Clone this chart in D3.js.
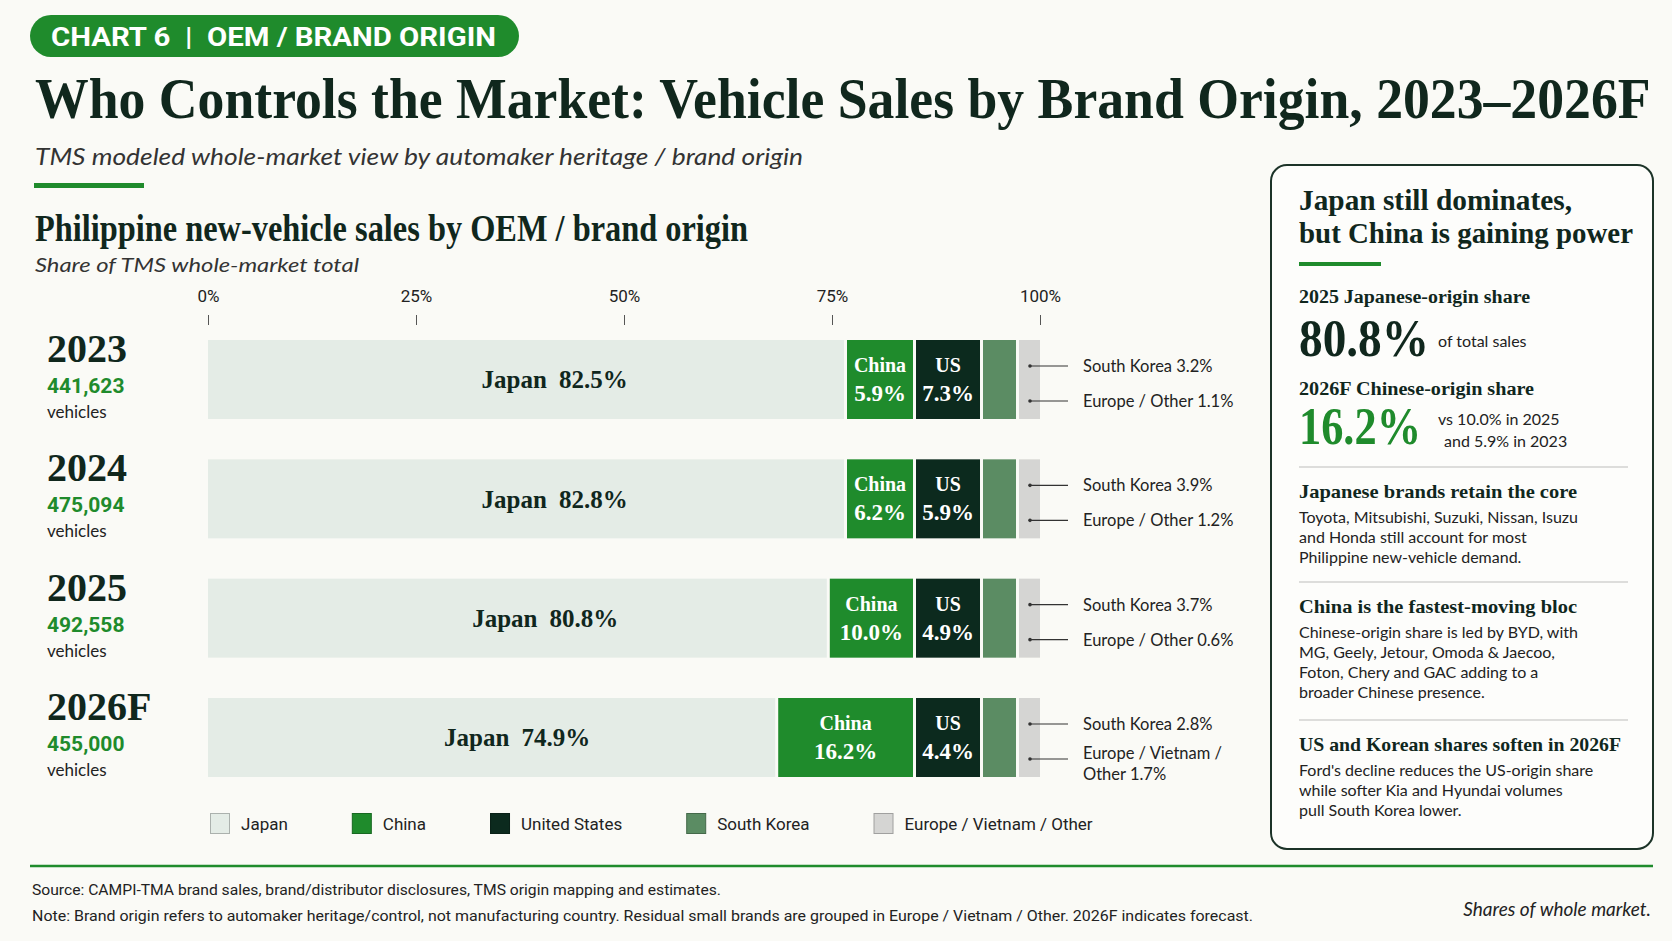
<!DOCTYPE html>
<html>
<head>
<meta charset="utf-8">
<script src="https://cdn.jsdelivr.net/npm/d3@7"></script>
<style>
  body { margin: 0; background: #fafaf6; }
  svg { display: block; }
</style>
</head>
<body>
<script>
// chart values
const years = ["2023", "2024", "2025", "2026F"];
const vehicles = [441623, 475094, 492558, 455000];
const origins = ["Japan", "China", "United States", "South Korea", "Europe / Vietnam / Other"];
const shortNames = ["Japan", "China", "US", "South Korea", "Europe / Other"];
const japan = [82.5, 82.8, 80.8, 74.9];
const china = [5.9, 6.2, 10.0, 16.2];
const unitedStates = [7.3, 5.9, 4.9, 4.4];
const southKorea = [3.2, 3.9, 3.7, 2.8];
const otherShare = [1.1, 1.2, 0.6, 1.7];
const otherNames = [["Europe / Other"], ["Europe / Other"], ["Europe / Other"], ["Europe / Vietnam /", "Other"]];
const axisTicks = [0, 25, 50, 75, 100];

const W = 1672, H = 941;
const serif = "'Liberation Serif', 'DejaVu Serif', serif";
const sans = "Lato, 'Noto Sans', sans-serif";
const cond = "Roboto, 'Liberation Sans', sans-serif";
const ink = "#10271d";
const green = "#1f8b2c";
const colors = ["#e4ece6", "#1f8b2c", "#0c2a1e", "#5b8c63", "#d5d5d3"];

const svg = d3.select("body").append("svg").attr("width", W).attr("height", H);
svg.append("rect").attr("width", W).attr("height", H).attr("fill", "#fafaf6");

// squeeze/stretch a text to the width it has in the reference
function fit(sel, w) {
  sel.attr("textLength", w).attr("lengthAdjust", "spacingAndGlyphs");
  return sel;
}
function label(x, y, s, size, family, opts = {}) {
  const t = svg.append("text")
    .attr("x", x).attr("y", y)
    .attr("font-family", family)
    .attr("font-size", size)
    .attr("font-weight", opts.weight || "normal")
    .attr("font-style", opts.style || "normal")
    .attr("fill", opts.fill || ink)
    .attr("text-anchor", opts.anchor || "start")
    .style("white-space", "pre")
    .text(s);
  if (opts.width) fit(t, opts.width);
  return t;
}

// ---- header ----
svg.append("rect").attr("x", 30).attr("y", 15).attr("width", 489).attr("height", 42)
  .attr("rx", 21).attr("fill", green);
label(51, 46, "CHART 6  |  OEM / BRAND ORIGIN", 25, cond, { weight: "bold", fill: "#fff", width: 445 });

// title: condensed horizontally with a scale so it spans the reference width
const title = svg.append("text")
  .attr("font-family", serif).attr("font-weight", "bold").attr("font-size", 58).attr("fill", ink)
  .text("Who Controls the Market: Vehicle Sales by Brand Origin, 2023\u20132026F");
const tw = title.node().getComputedTextLength();
title.attr("transform", `translate(35,118) scale(${1616 / tw},1)`);

label(35, 165, "TMS modeled whole-market view by automaker heritage / brand origin", 23, sans,
  { style: "italic", fill: "#333", width: 768 });
svg.append("rect").attr("x", 34).attr("y", 183).attr("width", 110).attr("height", 5).attr("fill", green);

label(35, 241, "Philippine new-vehicle sales by OEM / brand origin", 37, serif, { weight: "bold", width: 713 });
label(35, 272, "Share of TMS whole-market total", 20, sans, { style: "italic", fill: "#333", width: 324 });

// ---- scales ----
const x = d3.scaleLinear().domain([0, 100]).range([208, 1040]);
const y = d3.scaleBand().domain(years).range([340, 777]).paddingInner(0.338);

const axis = svg.append("g").attr("transform", "translate(0,325)")
  .call(d3.axisTop(x).tickValues(axisTicks).tickSize(10).tickPadding(13).tickFormat(d => d + "%"));
axis.select(".domain").remove();
axis.selectAll("line").attr("stroke", "#555");
axis.selectAll("text").attr("font-family", cond).attr("font-size", 17).attr("fill", "#222");

// small segments get a minimum width so the labels fit, Japan takes the rest
const minW = [0, 66, 64, 33, 21];
const gap = 3;
const rows = years.map((yr, i) => {
  const vals = [japan[i], china[i], unitedStates[i], southKorea[i], otherShare[i]];
  const w = vals.map((v, k) => k === 0 ? 0 : Math.max(x(v) - x(0), minW[k]));
  w[0] = x(100) - x(0) - d3.sum(w) - gap * 4;
  let cur = x(0);
  const segs = vals.map((v, k) => {
    const s = { key: k, value: v, x0: cur, w: w[k] };
    cur += w[k] + gap;
    return s;
  });
  return { year: yr, i, segs };
});

const row = svg.selectAll(".row").data(rows).enter().append("g")
  .attr("class", "row")
  .attr("transform", d => `translate(0,${y(d.year)})`);
const bh = y.bandwidth();

row.selectAll("rect.seg").data(d => d.segs).enter().append("rect")
  .attr("class", "seg")
  .attr("x", d => d.x0).attr("y", 0)
  .attr("width", d => d.w).attr("height", bh)
  .attr("fill", d => colors[d.key]);

// Japan label
row.append("text")
  .attr("x", d => d.segs[0].x0 + d.segs[0].w * 0.545)
  .attr("y", bh / 2 + 9)
  .attr("text-anchor", "middle")
  .attr("font-family", serif).attr("font-weight", "bold").attr("font-size", 25)
  .attr("fill", ink)
  .text(d => "Japan")
  .append("tspan").attr("dx", 12).text(d => d.segs[0].value.toFixed(1) + "%");

// China and US labels
[1, 2].forEach(k => {
  row.append("text")
    .attr("x", d => d.segs[k].x0 + d.segs[k].w / 2).attr("y", 32)
    .attr("text-anchor", "middle").attr("font-family", serif).attr("font-weight", "bold")
    .attr("font-size", 20).attr("fill", "#fff")
    .text(shortNames[k]);
  row.append("text")
    .attr("x", d => d.segs[k].x0 + d.segs[k].w / 2).attr("y", 61)
    .attr("text-anchor", "middle").attr("font-family", serif).attr("font-weight", "bold")
    .attr("font-size", 23).attr("fill", "#fff")
    .text(d => d.segs[k].value.toFixed(1) + "%");
});

// leaders for the two thin segments
const lx0 = x(100) - 10, lx1 = x(100) + 28, tx = x(100) + 43;
[[3, 26], [4, 61]].forEach(([k, ly]) => {
  row.append("line").attr("x1", lx0).attr("x2", lx1).attr("y1", ly).attr("y2", ly)
    .attr("stroke", "#333").attr("stroke-width", 1.2);
  row.append("circle").attr("cx", lx0).attr("cy", ly).attr("r", 1.8).attr("fill", "#333");
});
row.append("text").attr("x", tx).attr("y", 32)
  .attr("font-family", sans).attr("font-size", 16.5).attr("fill", "#222")
  .text(d => "South Korea " + d.segs[3].value.toFixed(1) + "%");
row.each(function (d) {
  const lines = otherNames[d.i];
  const t = d3.select(this).append("text").attr("font-family", sans).attr("font-size", 16.5).attr("fill", "#222");
  const pct = d.segs[4].value.toFixed(1) + "%";
  if (lines.length === 1) {
    t.append("tspan").attr("x", tx).attr("y", 67).text(lines[0] + " " + pct);
  } else {
    t.append("tspan").attr("x", tx).attr("y", 61).text(lines[0]);
    t.append("tspan").attr("x", tx).attr("y", 82).text(lines[1] + " " + pct);
  }
});

// left year labels
row.append("text").attr("x", 47).attr("y", 22)
  .attr("font-family", serif).attr("font-weight", "bold").attr("font-size", 40).attr("fill", ink)
  .text(d => d.year);
row.append("text").attr("x", 47).attr("y", 53)
  .attr("font-family", cond).attr("font-weight", "bold").attr("font-size", 21).attr("fill", green)
  .text(d => d3.format(",")(vehicles[d.i]));
row.append("text").attr("x", 47).attr("y", 78)
  .attr("font-family", sans).attr("font-size", 17).attr("fill", "#222")
  .text("vehicles");

// ---- legend ----
const legend = svg.append("g").attr("transform", "translate(210,813)");
let lx = 0;
origins.forEach((o, k) => {
  legend.append("rect").attr("x", lx + 0.5).attr("y", 0.5).attr("width", 19).attr("height", 20)
    .attr("fill", colors[k]).attr("stroke", d3.color(colors[k]).darker(0.8)).attr("stroke-width", 1);
  const t = legend.append("text").attr("x", lx + 31).attr("y", 17)
    .attr("font-family", cond).attr("font-size", 17).attr("fill", "#222").text(o);
  lx += 31 + t.node().getComputedTextLength() + 64;
});

// ---- right panel ----
svg.append("rect").attr("x", 1271).attr("y", 165).attr("width", 382).attr("height", 684)
  .attr("rx", 16).attr("fill", "#fdfdfb").attr("stroke", "#1c3328").attr("stroke-width", 2);
const px = 1299;
label(px, 210, "Japan still dominates,", 30, serif, { weight: "bold", width: 273 });
label(px, 243, "but China is gaining power", 30, serif, { weight: "bold", width: 334 });
svg.append("rect").attr("x", px).attr("y", 262).attr("width", 82).attr("height", 4).attr("fill", green);

label(px, 303, "2025 Japanese-origin share", 18, serif, { weight: "bold", width: 231 });
label(px, 356, japan[2].toFixed(1) + "%", 52, serif, { weight: "bold", width: 130 });
label(1438, 347, "of total sales", 16, sans, { fill: "#222" });

label(px, 395, "2026F Chinese-origin share", 18, serif, { weight: "bold", width: 235 });
label(px, 444, china[3].toFixed(1) + "%", 52, serif, { weight: "bold", fill: green, width: 122 });
label(1438, 425, `vs ${china[2].toFixed(1)}% in 2025`, 16, sans, { fill: "#222" });
label(1444, 447, `and ${china[0].toFixed(1)}% in 2023`, 16, sans, { fill: "#222" });

const notes = [
  { y: 467, head: "Japanese brands retain the core", hw: 278,
    body: ["Toyota, Mitsubishi, Suzuki, Nissan, Isuzu", "and Honda still account for most", "Philippine new-vehicle demand."] },
  { y: 582, head: "China is the fastest-moving bloc", hw: 278,
    body: ["Chinese-origin share is led by BYD, with", "MG, Geely, Jetour, Omoda & Jaecoo,", "Foton, Chery and GAC adding to a", "broader Chinese presence."] },
  { y: 720, head: "US and Korean shares soften in 2026F", hw: 322,
    body: ["Ford's decline reduces the US-origin share", "while softer Kia and Hyundai volumes", "pull South Korea lower."] }
];
notes.forEach(n => {
  svg.append("line").attr("x1", px).attr("x2", 1628).attr("y1", n.y).attr("y2", n.y)
    .attr("stroke", "#d2d2d0").attr("stroke-width", 1.5);
  label(px, n.y + 31, n.head, 19, serif, { weight: "bold", width: n.hw });
  n.body.forEach((b, j) => label(px, n.y + 56 + j * 20, b, 16, sans, { fill: "#222" }));
});

// ---- footer ----
svg.append("line").attr("x1", 30).attr("x2", 1653).attr("y1", 866).attr("y2", 866)
  .attr("stroke", green).attr("stroke-width", 2.5);
label(32, 895, "Source: CAMPI-TMA brand sales, brand/distributor disclosures, TMS origin mapping and estimates.",
  15, cond, { fill: "#222", width: 689 });
label(32, 921, "Note: Brand origin refers to automaker heritage/control, not manufacturing country. Residual small brands are grouped in Europe / Vietnam / Other. 2026F indicates forecast.",
  15, cond, { fill: "#222", width: 1221 });
label(1651, 916, "Shares of whole market.", 19, sans, { style: "italic", fill: "#222", anchor: "end" });
</script>
</body>
</html>
